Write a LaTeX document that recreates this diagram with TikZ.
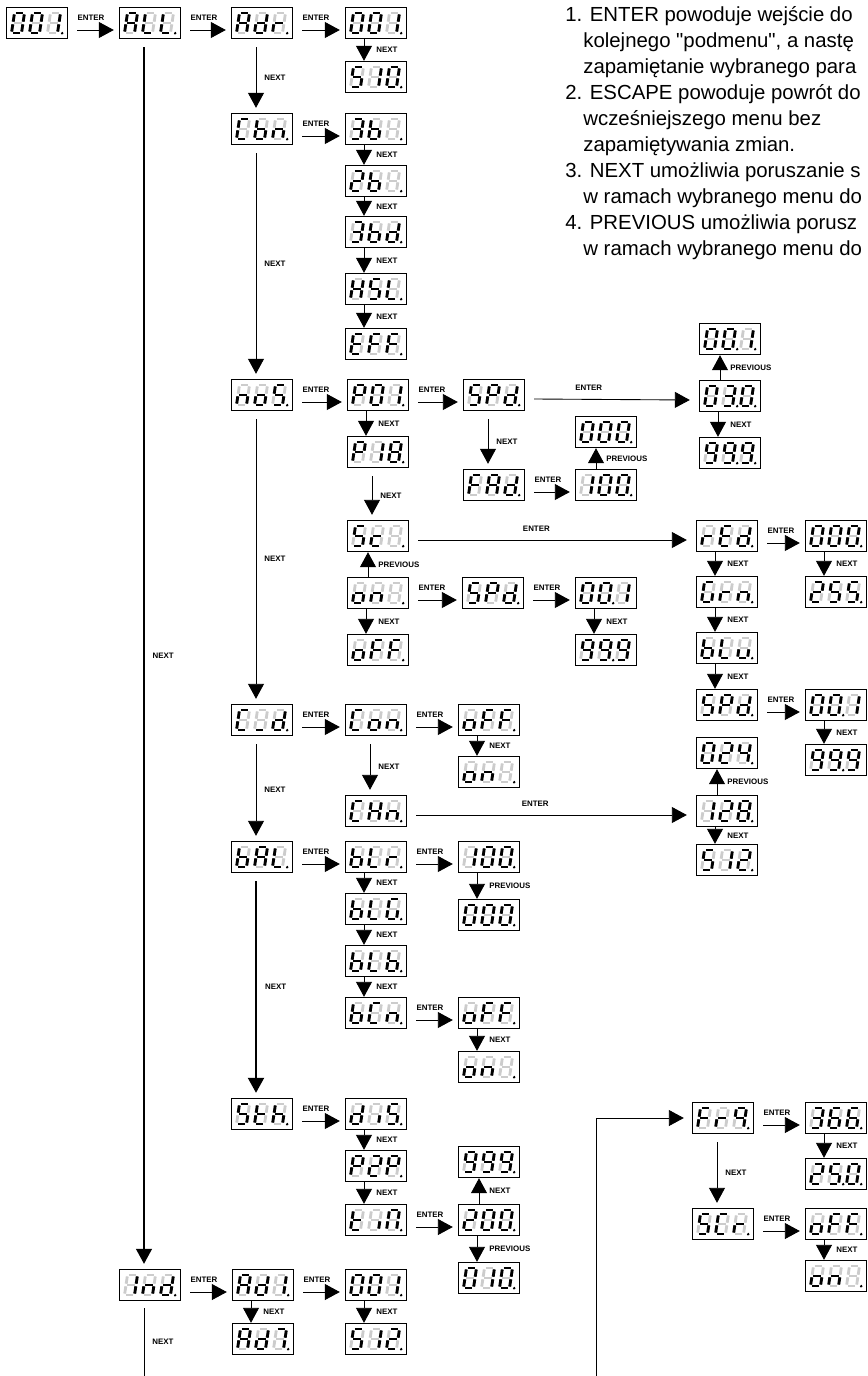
\documentclass[tikz,border=0pt]{standalone}
\usepackage{fontspec}
\newfontfamily\arial{Liberation Sans}
\usetikzlibrary{arrows.meta}

% lit segments of each display character
\newcommand\defseg[2]{\expandafter\def\csname sgc#1\endcsname{#2}}
\defseg{0}{a,b,c,d,e,f}
\defseg{1}{b,c}
\defseg{2}{a,b,g,e,d}
\defseg{3}{a,b,g,c,d}
\defseg{4}{f,g,b,c}
\defseg{5}{a,f,g,c,d}
\defseg{6}{a,f,g,e,d,c}
\defseg{7}{a,b,c}
\defseg{8}{a,b,c,d,e,f,g}
\defseg{9}{a,b,c,d,f,g}
\defseg{A}{a,b,c,e,f,g}
\defseg{b}{c,d,e,f,g}
\defseg{C}{a,d,e,f}
\defseg{c}{d,e,g}
\defseg{d}{b,c,d,e,g}
\defseg{E}{a,d,e,f,g}
\defseg{F}{a,e,f,g}
\defseg{G}{a,c,d,e,f}
\defseg{H}{b,c,e,f,g}
\defseg{h}{c,e,f,g}
\defseg{L}{d,e,f}
\defseg{n}{c,e,g}
\defseg{N}{a,b,c,e,f}
\defseg{o}{c,d,e,g}
\defseg{P}{a,b,e,f,g}
\defseg{q}{a,b,c,f,g}
\defseg{r}{e,g}
\defseg{S}{a,c,d,f,g}
\defseg{t}{d,e,f,g}
\defseg{u}{c,d,e}
\defseg{i}{c}
\defseg{_}{d}
\defseg{x}{x}

\tikzset{
  lcd/.style={draw, line width=0.8pt, fill=white, minimum width=1.22cm, minimum height=0.62cm, inner sep=0pt},
  segon/.style={line width=1.6pt, draw=black},
  segoff/.style={line width=1.6pt, draw=black!20},
  link/.style={-{Triangle[length=0.3cm, width=0.32cm]}, line width=0.5pt},
  key/.style={font=\arial\bfseries\fontsize{4.5}{5}\selectfont, inner sep=0pt},
  note/.style={font=\arial\fontsize{11.6}{14}\selectfont, anchor=base west, inner sep=0pt},
}

% one digit, #1 = centre, #2 = character
\newcommand\lcddigit[2]{%
  \coordinate (a1) at ({#1-3.6},10);   \coordinate (a2) at ({#1+3.6},10);
  \coordinate (b1) at ({#1+5},8.6);    \coordinate (b2) at ({#1+5},1.3);
  \coordinate (c1) at ({#1+5},-1.3);   \coordinate (c2) at ({#1+5},-8.6);
  \coordinate (d1) at ({#1-3.6},-10);  \coordinate (d2) at ({#1+3.6},-10);
  \coordinate (e1) at ({#1-5},-1.3);   \coordinate (e2) at ({#1-5},-8.6);
  \coordinate (f1) at ({#1-5},8.6);    \coordinate (f2) at ({#1-5},1.3);
  \coordinate (g1) at ({#1-3.6},0);    \coordinate (g2) at ({#1+3.6},0);
  \coordinate (x1) at (#1,0);          \coordinate (x2) at (#1,0);
  \foreach \sg in {a,...,g} \draw[segoff] (\sg1) -- (\sg2);
  \expandafter\let\expandafter\seglist\csname sgc#2\endcsname
  \foreach \sg in \seglist \draw[segon] (\sg1) -- (\sg2);
}

% display: name, position, three characters, digits with a dot
\newcommand\lcdbox[6]{%
  \node[lcd] (#1) at (#2) {};
  \begin{scope}[shift={(#1.center)}, x=0.02cm, y=0.02cm, xslant=0.15]
    \lcddigit{-19}{#3}\lcddigit{-1}{#4}\lcddigit{17}{#5}
    \foreach \k in {#6} \fill ({18*\k-27.3},-10.2) circle[radius=1.4];
  \end{scope}}

\newcommand\linkenter[2]{\draw[link] ([shift={(9,7)}]#1.east) -- node[key, pos=0, anchor=base west, yshift=0.19cm] {ENTER} ([shift={(-5,7)}]#2.west);}
\newcommand\linkenterlong[3][0.44]{\draw[link] ([shift={(9,4)}]#2.east) -- node[key, pos=#1, above=0.17cm] {ENTER} ([shift={(-9,4)}]#3.west);}
\newcommand\linkdown[3][NEXT]{\draw[link] ([xshift=-0.24cm]#2.south) -- node[key, anchor=west, xshift=0.24cm] {#1} ([xshift=-0.24cm]#3.north);}
\newcommand\linkup[3][PREVIOUS]{\draw[link] ([xshift=-0.2cm]#2.north) -- node[key, anchor=west, xshift=0.2cm] {#1} ([xshift=-0.2cm]#3.south);}
\newcommand\linknext[3][]{\draw[link, #1] ([shift={(-6,8)}]#2.south) -- node[key, anchor=west, xshift=0.16cm] {NEXT} ([shift={(-6,-5)}]#3.north);}

\begin{document}
\begin{tikzpicture}[x=0.02cm, y=-0.02cm]
  \useasboundingbox (0,0) rectangle (867,1376);
  \clip (0,0) rectangle (867,1376);

  % notes
  \node[note] (t1) at (565,21) {1. ENTER powoduje wejście do};
  \node[note] (t2) at (583,47) {kolejnego "podmenu", a nastę};
  \node[note] (t3) at (583,73) {zapamiętanie wybranego para};
  \node[note] (t4) at (565,99) {2. ESCAPE powoduje powrót do};
  \node[note] (t5) at (583,125) {wcześniejszego menu bez};
  \node[note] (t6) at (583,151) {zapamiętywania zmian.};
  \node[note] (t7) at (565,177) {3. NEXT umożliwia poruszanie s};
  \node[note] (t8) at (583,203) {w ramach wybranego menu do};
  \node[note] (t9) at (565,229) {4. PREVIOUS umożliwia porusz};
  \node[note] (t10) at (583,255) {w ramach wybranego menu do};

  % address
  \lcdbox{d001}{37,23}{0}{0}{1}{3}
  \lcdbox{dAll}{150,23}{A}{L}{L}{3}
  \lcdbox{dAdr}{262,23}{A}{d}{r}{3}
  \lcdbox{dAdrLo}{376,23}{0}{0}{1}{3}
  \lcdbox{dAdrHi}{376,77}{5}{1}{0}{3}

  % colour modes
  \lcdbox{dCbn}{262,129}{C}{b}{n}{3}
  \lcdbox{dThreeB}{376,129}{3}{b}{x}{3}
  \lcdbox{dTwoB}{376,181}{2}{b}{x}{3}
  \lcdbox{dThreeBd}{376,232}{3}{b}{d}{3}
  \lcdbox{dHsl}{376,289}{H}{S}{L}{3}
  \lcdbox{dEff}{376,344}{E}{F}{F}{3}

  % programs
  \lcdbox{dNos}{262,395}{n}{o}{S}{3}
  \lcdbox{dPfirst}{378,395}{P}{0}{1}{3}
  \lcdbox{dPlast}{378,452}{P}{1}{8}{3}
  \lcdbox{dSpdP}{494,395}{S}{P}{d}{3}
  \lcdbox{dFadP}{494,485}{F}{A}{d}{3}
  \lcdbox{dFadMax}{606,485}{1}{0}{0}{3}
  \lcdbox{dFadMin}{606,432}{0}{0}{0}{3}
  \lcdbox{dSpdMin}{730,339}{0}{0}{1}{2,3}
  \lcdbox{dSpdMid}{730,396}{0}{3}{0}{2,3}
  \lcdbox{dSpdMax}{730,453}{9}{9}{9}{2,3}

  % scenes
  \lcdbox{dSc}{378,536}{S}{c}{x}{3}
  \lcdbox{dOnS}{378,593}{o}{n}{x}{3}
  \lcdbox{dOffS}{378,650}{o}{F}{F}{3}
  \lcdbox{dSpdOn}{493,593}{S}{P}{d}{3}
  \lcdbox{dOnMin}{606,593}{0}{0}{1}{2}
  \lcdbox{dOnMax}{606,650}{9}{9}{9}{2}
  \lcdbox{dRed}{727,536}{r}{E}{d}{3}
  \lcdbox{dGrn}{727,592}{G}{r}{n}{3}
  \lcdbox{dBlu}{727,648}{b}{L}{u}{3}
  \lcdbox{dSpdSc}{727,705}{S}{P}{d}{3}
  \lcdbox{dScLo}{727,753}{0}{2}{4}{3}
  \lcdbox{dScMid}{727,811}{1}{2}{8}{3}
  \lcdbox{dScHi}{727,860}{5}{1}{2}{3}
  \lcdbox{dColMin}{836,536}{0}{0}{0}{3}
  \lcdbox{dColMax}{836,592}{2}{5}{5}{3}
  \lcdbox{dSpdScMin}{836,705}{0}{0}{1}{2}
  \lcdbox{dSpdScMax}{836,760}{9}{9}{9}{2}

  % CId
  \lcdbox{dCid}{262,720}{C}{_}{d}{3}
  \lcdbox{dCon}{376,720}{C}{o}{n}{3}
  \lcdbox{dConOff}{489,720}{o}{F}{F}{3}
  \lcdbox{dConOn}{489,772}{o}{n}{x}{3}
  \lcdbox{dChn}{376,811}{C}{H}{n}{3}

  % balance
  \lcdbox{dBal}{262,857}{b}{A}{L}{3}
  \lcdbox{dBlr}{376,857}{b}{L}{r}{3}
  \lcdbox{dBlg}{376,909}{b}{L}{G}{3}
  \lcdbox{dBlb}{376,961}{b}{L}{b}{3}
  \lcdbox{dBcn}{376,1013}{b}{C}{n}{3}
  \lcdbox{dBalMax}{489,857}{1}{0}{0}{3}
  \lcdbox{dBalMin}{489,915}{0}{0}{0}{3}
  \lcdbox{dBcnOff}{489,1013}{o}{F}{F}{3}
  \lcdbox{dBcnOn}{489,1067}{o}{n}{x}{3}

  % Sth
  \lcdbox{dSth}{262,1114}{S}{t}{h}{3}
  \lcdbox{dDis}{376,1114}{d}{i}{S}{3}
  \lcdbox{dPtp}{376,1166}{P}{2}{P}{3}
  \lcdbox{dTin}{376,1220}{t}{i}{N}{3}
  \lcdbox{dTinMax}{489,1162}{9}{9}{9}{3}
  \lcdbox{dTinMid}{489,1220}{2}{0}{0}{3}
  \lcdbox{dTinMin}{489,1278}{0}{1}{0}{3}

  % Ind
  \lcdbox{dInd}{150,1285}{1}{n}{d}{3}
  \lcdbox{dAdFirst}{263,1285}{A}{d}{1}{3}
  \lcdbox{dAdLast}{263,1339}{A}{d}{7}{3}
  \lcdbox{dIndLo}{376,1285}{0}{0}{1}{3}
  \lcdbox{dIndHi}{376,1339}{5}{1}{2}{3}

  % Fr9
  \lcdbox{dFrq}{723,1118}{F}{r}{q}{3}
  \lcdbox{dFrqA}{836,1118}{3}{6}{6}{3}
  \lcdbox{dFrqB}{836,1174}{2}{5}{0}{2,3}
  \lcdbox{dScr}{723,1224}{S}{C}{r}{3}
  \lcdbox{dScrOff}{836,1224}{o}{F}{F}{3}
  \lcdbox{dScrOn}{836,1276}{o}{n}{x}{3}

  % connectors
  \linkenter{d001}{dAll}
  \linkenter{dAll}{dAdr}
  \linkenter{dAdr}{dAdrLo}
  \linkdown{dAdrLo}{dAdrHi}
  \linknext{dAdr}{dCbn}
  \linknext[line width=0.7pt]{dAll}{dInd}

  \linkenter{dCbn}{dThreeB}
  \linkdown{dThreeB}{dTwoB}
  \linkdown{dTwoB}{dThreeBd}
  \linkdown{dThreeBd}{dHsl}
  \linkdown{dHsl}{dEff}
  \linknext{dCbn}{dNos}

  \linkenter{dNos}{dPfirst}
  \linkenter{dPfirst}{dSpdP}
  \linkdown{dPfirst}{dPlast}
  \linknext{dSpdP}{dFadP}
  \linkenter{dFadP}{dFadMax}
  \linkup{dFadMax}{dFadMin}
  \linkenterlong[0.35]{dSpdP}{dSpdMid}
  \linkup{dSpdMid}{dSpdMin}
  \linkdown{dSpdMid}{dSpdMax}
  \linknext{dPlast}{dSc}
  \linknext{dNos}{dCid}

  \linkenterlong{dSc}{dRed}
  \linkup{dOnS}{dSc}
  \linkdown{dOnS}{dOffS}
  \linkenter{dOnS}{dSpdOn}
  \linkenter{dSpdOn}{dOnMin}
  \linkdown{dOnMin}{dOnMax}
  \linkdown{dRed}{dGrn}
  \linkdown{dGrn}{dBlu}
  \linkdown{dBlu}{dSpdSc}
  \linkenter{dRed}{dColMin}
  \linkdown{dColMin}{dColMax}
  \linkenter{dSpdSc}{dSpdScMin}
  \linkdown{dSpdScMin}{dSpdScMax}
  \linkup{dScMid}{dScLo}
  \linkdown{dScMid}{dScHi}

  \linkenter{dCid}{dCon}
  \linkenter{dCon}{dConOff}
  \linkdown{dConOff}{dConOn}
  \linknext{dCon}{dChn}
  \linkenterlong{dChn}{dScMid}
  \linknext{dCid}{dBal}

  \linkenter{dBal}{dBlr}
  \linkenter{dBlr}{dBalMax}
  \linkdown[PREVIOUS]{dBalMax}{dBalMin}
  \linkdown{dBlr}{dBlg}
  \linkdown{dBlg}{dBlb}
  \linkdown{dBlb}{dBcn}
  \linkenter{dBcn}{dBcnOff}
  \linkdown{dBcnOff}{dBcnOn}
  \linknext[line width=1.2pt]{dBal}{dSth}

  \linkenter{dSth}{dDis}
  \linkdown{dDis}{dPtp}
  \linkdown{dPtp}{dTin}
  \linkenter{dTin}{dTinMid}
  \linkup[NEXT]{dTinMid}{dTinMax}
  \linkdown[PREVIOUS]{dTinMid}{dTinMin}

  \linkenter{dInd}{dAdFirst}
  \linkenter{dAdFirst}{dIndLo}
  \linkdown{dAdFirst}{dAdLast}
  \linkdown{dIndLo}{dIndHi}
  \coordinate (cIndOut) at (144,1376);
  \draw[line width=0.5pt] ([shift={(-6,7)}]dInd.south) -- node[key, anchor=west, xshift=0.16cm] {NEXT} (cIndOut);

  \coordinate (cFrqIn) at (596,1376);
  \draw[link] (cFrqIn) |- ([xshift=-0.16cm]dFrq.west);
  \linkenter{dFrq}{dFrqA}
  \linkdown{dFrqA}{dFrqB}
  \linknext{dFrq}{dScr}
  \linkenter{dScr}{dScrOff}
  \linkdown{dScrOff}{dScrOn}
\end{tikzpicture}
\end{document}
